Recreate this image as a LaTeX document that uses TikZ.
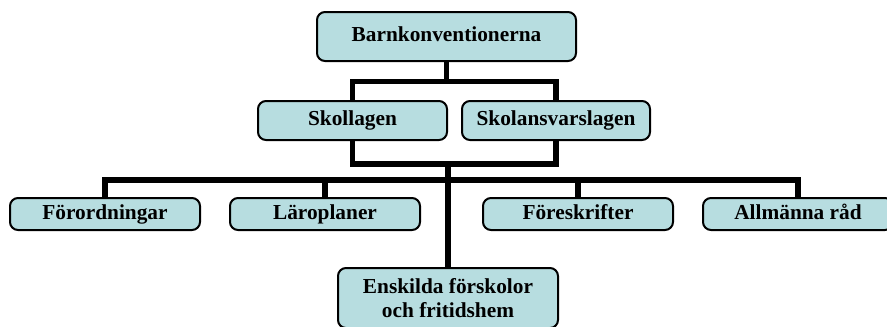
\documentclass[tikz,border=0pt]{standalone}
\usepackage{fontspec}
\setmainfont{Liberation Serif}
\usepackage{tikz}
\usetikzlibrary{calc}
\definecolor{boxfill}{RGB}{183,221,224}
\def\PX{0.75pt}
\tikzset{
  law/.style={draw, line width=1.5pt, rounded corners=6pt, fill=boxfill,
    font=\bfseries\fontsize{16}{18}\selectfont, align=center, inner sep=0pt},
  lawrow/.style={law, text height=11pt, text depth=3.5pt},
  link/.style={line width=4pt}
}

\begin{document}
\begin{tikzpicture}[x=0.75pt,y=-0.75pt]
\useasboundingbox (0,0) rectangle (887,326);
% boxes
\node[lawrow, minimum width=259*\PX, minimum height=49*\PX] (barn) at (446.5,36.5) {Barnkonventionerna};
\node[lawrow, minimum width=189*\PX, minimum height=39*\PX] (skol) at (352.5,120.5) {Skollagen};
\node[lawrow, minimum width=188*\PX, minimum height=39*\PX] (ansv) at (556,120.5) {Skolansvarslagen};
\node[lawrow, minimum width=190*\PX, minimum height=32*\PX] (forord) at (105,214) {Förordningar};
\node[lawrow, minimum width=190*\PX, minimum height=32*\PX] (laro) at (325,214) {Läroplaner};
\node[lawrow, minimum width=190*\PX, minimum height=32*\PX] (fores) at (578,214) {Föreskrifter};
\node[lawrow, minimum width=190*\PX, minimum height=32*\PX] (allm) at (798,214) {Allmänna råd};
\node[law, minimum width=220*\PX, minimum height=60*\PX] (ensk) at (448,298) {Enskilda förskolor\\och fritidshem};
% connectors
\draw[link] (barn.south) -- ++(0,19.5) -| (skol.north);
\draw[link] (barn.south) -- ++(0,19.5) -| (ansv.north);
\draw[link] (skol.south) -- ++(0,23) -| (ansv.south);
\coordinate (hub) at (448,163);
\coordinate (bar) at (448,180);
\draw[link] (hub) -- (ensk.north);
\foreach \n in {forord,laro,fores,allm}
  \draw[link] (bar) -| (\n.north);
\end{tikzpicture}
\end{document}
